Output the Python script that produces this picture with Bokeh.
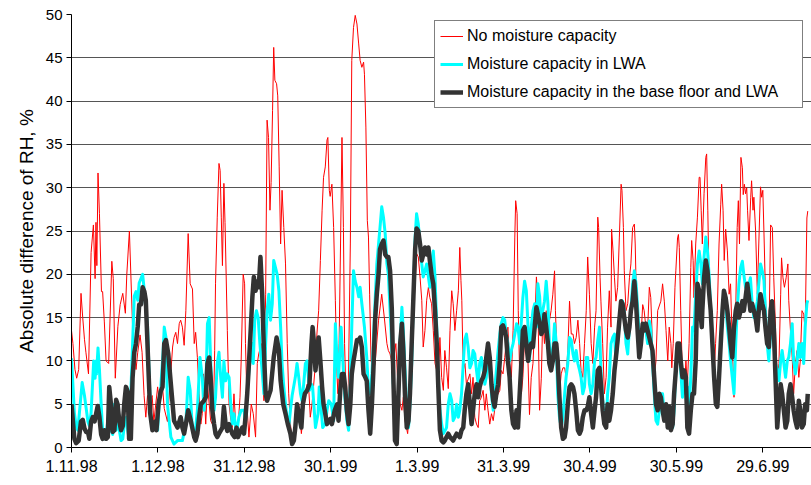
from datetime import date
from bokeh.plotting import figure
from bokeh.models import FixedTicker
from bokeh.embed import file_html
from bokeh.resources import INLINE

# ---------------- data (day offset from 1.11.98, value in %) ----------------
start = date(1998, 11, 1)
tick_labels = ["1.11.98", "1.12.98", "31.12.98", "30.1.99", "1.3.99",
               "31.3.99", "30.4.99", "30.5.99", "29.6.99"]
y_ticks = [0, 5, 10, 15, 20, 25, 30, 35, 40, 45, 50]

red_day = [0, 0.5, 1.2, 1.8, 2.5, 3.3, 3.9, 4.5, 5.0, 5.9, 6.8, 7.6, 8.2, 8.5, 8.8, 9.2, 9.7, 10.4, 10.8, 11.4, 12.0, 12.9, 14.0, 14.5, 15.2, 16.1, 16.9, 17.8, 18.7, 19.2, 20.1, 20.6, 21.2, 21.8, 22.4, 23.0, 23.8, 24.5, 25.2, 25.8, 26.4, 27.0, 28.0, 28.6, 29.9, 30.5, 31.6, 32.2,
           33.3, 35.1, 35.6, 36.2, 36.8, 37.4, 37.9, 38.5, 39.1, 39.7, 40.5, 41.2, 42.0, 42.6, 43.1, 43.7, 44.3, 44.9, 45.4, 45.8, 46.6, 47.2, 48.3, 49.2, 49.7, 50.0, 50.6, 51.2, 51.6, 52.0, 52.4, 52.9, 53.3, 54.1, 54.7, 55.2, 55.8, 56.4, 57.0, 57.8, 58.5, 58.9, 59.6, 60.1, 60.4, 61.0, 61.6, 62.4, 63.1, 63.9, 64.5, 65.0, 65.9, 66.8, 67.4, 67.9, 68.4, 68.9, 69.3, 69.8, 70.2, 70.6, 71.2, 71.6, 72.1, 72.6, 73.1, 73.7, 74.3, 74.9, 75.4, 76.0, 76.6,
           77.7, 78.9, 79.8, 80.6, 81.8, 82.4, 82.9, 83.5, 84.7, 85.2, 85.8, 86.4, 87.0, 87.5, 88.1, 88.7, 89.0, 89.5, 89.8, 90.4, 91.0, 91.6, 92.2, 92.5, 92.9, 93.4, 93.9, 94.4, 94.8, 95.3, 96.0, 96.8, 97.3, 97.9, 98.5, 99.1, 99.7, 100.2, 100.8, 101.4, 101.7, 102.2, 102.7, 103.1, 103.5, 104.0, 104.8, 105.4, 106.6, 107.7, 108.6, 109.5, 110.0, 110.6, 111.2, 112.1, 112.6, 113.3, 114.1, 114.7, 115.2, 115.8, 116.7, 117.5, 118.1, 118.7,
           119.3, 119.8, 120.4, 121.0, 121.6, 122.1, 122.7, 123.3, 123.9, 124.4, 125.0, 125.6, 126.2, 126.8, 127.3, 127.9, 128.5, 129.1, 129.6, 130.2, 130.8, 131.4, 132.0, 132.5, 133.1, 133.7, 134.3, 134.8, 135.2, 135.5, 136.0, 136.6, 137.1, 138.3, 138.9, 139.4, 140.0, 140.6, 141.2, 141.7, 142.3, 142.9, 143.5, 144.0, 144.6, 145.2, 145.8, 146.4, 147.5, 148.7, 149.2, 149.8, 150.4, 150.9, 151.5, 152.1, 152.7, 153.3, 153.9, 154.2, 154.7, 155.1, 155.6, 156.2, 156.7, 157.3, 157.9, 158.5, 159.0, 159.6, 160.2, 160.8, 161.4, 161.9, 162.5, 163.1,
           163.6, 164.2, 164.8, 165.4, 165.9, 166.5, 167.1, 167.7, 168.0, 168.5, 168.8, 169.4, 170.0, 170.6, 171.2, 171.7, 172.3, 172.9, 173.5, 174.1, 174.6, 175.2, 175.8, 176.4, 176.9, 177.5, 178.1, 178.7, 179.2, 179.8, 180.4, 181.0, 181.6, 182.1, 182.7, 183.0, 183.5, 183.8, 184.4, 185.0, 185.6, 186.1, 186.7, 187.3, 187.5, 188.0, 188.5, 189.0, 189.6, 190.2, 190.8, 191.1, 191.6, 191.9, 192.5, 193.1, 193.7, 194.2, 194.8, 195.4, 195.7, 196.2, 196.6, 197.1, 197.7, 198.3, 198.8, 199.4, 200.0, 200.6, 201.1, 201.7, 202.3, 202.9, 203.5, 204.6, 205.2,
           205.8, 206.4, 207.0, 207.5, 208.1, 208.4, 208.9, 209.5, 209.8, 210.4, 210.7, 211.0, 211.5, 212.1, 212.7, 213.3, 213.8, 214.4, 215.0, 215.3, 215.8, 216.1, 216.7, 217.3, 217.9, 218.2, 218.6, 219.0, 219.6, 220.2, 220.5, 220.9, 221.3, 221.9, 222.5, 223.1, 223.6, 224.2, 224.8, 225.4, 225.7, 226.2, 226.6, 227.1, 227.7, 228.3, 228.8, 229.4, 230.0, 230.6, 231.1, 231.5, 231.9, 232.4, 232.9, 233.2, 233.6, 234.0, 234.4, 234.7, 235.2, 235.8, 236.1, 236.6, 236.9, 237.5, 238.1, 238.6, 239.2, 239.6, 240.0, 240.5, 241.0, 241.5, 242.1, 242.7, 243.3, 243.8, 244.4, 245.0, 245.6, 246.2, 246.5, 247.0, 247.5, 248.1, 248.7, 249.0, 249.6, 250.2, 250.7, 251.3, 251.9, 252.5, 253.0, 253.6, 254.2, 254.7, 255.3, 255.6]
red_val = [13.5, 12, 9, 8, 9, 17.8, 15, 12.5, 11, 8.5, 22.5, 25.7, 19.5, 26, 21, 31.7, 27, 18, 18, 14.5, 10, 9.7, 21.5, 19.5, 8, 14, 16.5, 17.8, 15.5, 20, 25, 20, 14, 12, 9, 11, 13, 11, 6, 3.5, 6, 5, 6, 3, 7, 5, 7, 4.5,
           3, 11.6, 12.7, 13.3, 12, 14.3, 14.7, 13.9, 11.8, 15.8, 24.7, 18.9, 18.3, 12, 13.3, 10.4, 6.2, 2.7, 3.9, 8.5, 2.7, 7.3, 3.1, 2.5, 11.2, 18.9, 26.6, 32.8, 32, 26.6, 21, 30.5, 26, 13.5, 5, 3.5, 2.3, 6.2, 2.7, 2.3, 5.8, 10, 20, 18.9, 12, 4.3, 1.2, 5, 3.9, 1.2, 9.7, 10.8, 12, 5.4, 17.7, 37.8, 35.8, 27.4, 30.6, 38.9, 46.2, 42.4, 42, 40.6, 32.4, 23.5, 29.7, 25.4, 21.2, 12, 6.2, 2.7, 0.8,
           3.1, 5, 1.6, 4.3, 7.3, 6.6, 3.5, 5, 9.7, 13.1, 15.8, 21.6, 27.4, 31.2, 32.4, 35.5, 35.8, 29.7, 29, 30.4, 25.4, 17, 8.1, 6.2, 12, 23.5, 35.8, 25.4, 12, 5.8, 4.3, 23.5, 44.7, 48.5, 49.9, 48.9, 46.6, 44.7, 43.9, 44.5, 43.1, 37, 26.2, 24.3, 17.7, 10, 8.9, 9.7, 14.7, 17.7, 15, 12, 11.2, 10.8, 9.7, 10.8, 12, 7.3, 5, 4.3, 5.8, 3.1, 1.6, 5, 10, 15.8,
           19, 22.4, 22, 19.7, 17, 11.6, 13.5, 17, 18.5, 17.3, 16.6, 13.5, 9.7, 8.9, 6.8, 12.7, 8.1, 6.6, 11.2, 9.2, 6.8, 13.5, 18.1, 16.6, 13.5, 15.8, 18.1, 23.1, 19.3, 17, 8.9, 9.7, 7.3, 8.5, 6.2, 8.1, 3.5, 2.7, 2.3, 5.4, 5.8, 6.6, 4.3, 6.2, 4.3, 2.7, 3.9, 3.1, 5.8, 6.6, 8.9, 8.5, 10.4, 12, 13.9, 9.7, 8.1, 13.5, 24.3, 28.5, 27, 15.8, 8.1, 6.2, 8.1, 12.7, 13.9, 9.7, 3.8, 8.1, 9.7, 13.9, 19.7, 17, 4.3, 8,
           15, 12, 15.8, 14.7, 14.6, 15.8, 17.7, 20.4, 15.8, 11.2, 7, 6.2, 8.5, 9.2, 9.2, 8.1, 11.2, 16.9, 13.1, 13.1, 12, 12.7, 14.7, 12, 8.9, 8.1, 12, 15.8, 22, 17.7, 12, 9.7, 13.9, 15.8, 26.6, 25.4, 19.6, 16.9, 12, 6.2, 8.1, 13.9, 18.1, 13.9, 25.2, 22.7, 19.6, 16.9, 18.5, 24.3, 30.4, 29.7, 25.4, 20.4, 15.8, 16.6, 19.6, 21.2, 25.4, 25.8, 23.5, 15.8, 13.9, 12, 12.7, 16.5, 15.8, 13.9, 13.5, 18.5, 17.3, 12, 8.1, 10, 15.8, 16.9, 18.9,
           16.9, 13.5, 10, 13.9, 12, 9.2, 12, 18.5, 20.4, 24.2, 24.6, 23.1, 15.8, 8.1, 6.6, 10, 7.3, 12, 20.8, 23.9, 21.6, 17.3, 23.5, 26.6, 31.2, 31.2, 27.4, 23.5, 29.3, 33.5, 33.9, 27.4, 19.6, 15.8, 12, 8.5, 12, 15.8, 23.5, 28.1, 30.4, 27.4, 21.6, 25.2, 22.7, 17.7, 18.9, 12, 5.8, 15.8, 25.4, 28.5, 23.5, 33.5, 32.3, 29.2, 30.4, 29.3, 30, 27.4, 23.9, 28.9, 30.8, 27.4, 28.9, 25, 17.7, 23.5, 30.1, 28.9, 29.7, 23.5, 16.6, 13.9, 12, 25.7, 25.4, 19.6, 13.9, 8.1, 9.7, 17.7, 21.9, 19.6, 18.5, 19.6, 21.2, 17, 13.5, 10.4, 6.2, 9.7, 11.2, 8.1, 10, 15.8, 15.4, 13.5, 26.5, 27.3]

cyan_day = [0, 1.0, 1.6, 2.2, 3.7, 4.5, 5.1, 5.7, 6.2, 6.8, 7.4, 7.7, 8.2, 8.5, 8.7, 9.2, 9.7, 10.3, 10.8, 11.4, 12.0, 12.6, 13.1, 13.7, 14.3, 14.9, 15.5, 16.0, 16.6, 17.2, 17.8, 18.3, 19.1, 19.5, 20.0, 21.0, 21.8, 22.4, 23.0, 23.5, 24.7, 25.3, 25.8, 26.4, 27.0, 27.6, 28.2, 29.3, 29.9, 30.4, 31.0, 31.8,
            32.2, 32.8, 33.3, 34.5, 35.6, 36.8, 38.5, 39.7, 40.5, 41.2, 42.0, 42.8, 43.7, 44.6, 45.4, 46.0, 46.6, 47.2, 47.8, 48.3, 48.9, 49.5, 50.0, 50.6, 51.2, 51.8, 52.4, 52.9, 53.5, 54.1, 54.7, 55.2, 55.8, 56.4, 57.0, 57.6, 58.1, 58.9, 59.9, 60.4, 61.0, 61.6, 62.2, 62.7, 63.1, 63.6, 64.2, 64.8, 65.4, 65.9, 66.8, 67.4, 67.9, 68.5, 69.1, 69.7, 70.2, 70.8, 71.4, 72.0, 72.6, 73.1, 73.7, 74.3, 74.9, 75.4, 76.0, 76.6,
            77.7, 78.3, 78.9, 79.5, 80.0, 80.6, 81.2, 81.8, 82.6, 83.3, 83.7, 84.7, 85.6, 86.0, 86.7, 87.2, 88.1, 88.7, 89.3, 90.2, 91.0, 91.6, 92.2, 92.7, 93.6, 94.2, 94.8, 95.6, 96.2, 96.8, 97.3, 97.9, 98.5, 99.1, 99.7, 100.2, 100.8, 101.7, 102.5, 103.1, 103.7, 104.3, 104.8, 105.4, 106.0, 106.6, 107.1, 107.7, 108.3, 108.9, 109.5, 110.0, 110.6, 111.2, 111.8, 112.3, 112.9, 113.5, 114.1, 114.7, 115.2, 115.8, 116.4, 117.0, 117.5, 118.1, 118.7, 119.3, 119.8,
            120.4, 121.0, 121.6, 122.1, 122.7, 123.3, 123.9, 124.4, 125.0, 125.6, 126.2, 126.8, 127.3, 127.9, 128.5, 129.1, 129.6, 130.2, 130.8, 131.4, 132.0, 132.5, 133.1, 133.7, 134.3, 134.8, 135.4, 136.0, 136.5, 137.1, 137.7, 138.3, 138.9, 139.4, 140.0, 140.6, 141.2, 141.7, 142.3, 142.9, 143.5, 144.0, 144.6, 145.2, 145.8, 146.4, 146.9, 147.5, 148.1, 148.7, 149.2, 149.8, 150.4, 150.9, 151.5, 152.1, 152.7, 153.3, 153.9, 154.5, 155.0, 155.6, 156.2, 156.7, 157.3, 157.9, 158.5, 159.0, 159.6, 160.2, 160.8, 161.4, 161.9, 162.5, 163.1,
            163.6, 164.2, 164.8, 165.4, 165.9, 166.5, 167.1, 167.7, 168.3, 168.8, 169.4, 170.0, 170.6, 171.2, 171.7, 172.3, 172.9, 173.5, 174.1, 174.6, 175.2, 175.8, 176.4, 176.9, 177.5, 178.1, 178.7, 179.2, 179.8, 180.4, 181.0, 181.6, 182.1, 182.7, 183.3, 183.8, 184.4, 185.0, 185.6, 186.1, 186.7, 187.3, 187.9, 188.5, 189.0, 189.6, 190.2, 190.8, 191.3, 191.9, 192.5, 193.1, 193.7, 194.2, 194.8, 195.4, 196.0, 196.6, 197.1, 197.7, 198.3, 198.8, 199.4, 200.0, 200.6, 201.1, 201.7, 202.3, 202.9, 203.5, 204.1, 204.6, 205.2,
            205.8, 206.4, 207.0, 207.5, 208.1, 208.7, 209.2, 209.8, 210.4, 211.0, 211.5, 212.1, 212.7, 213.3, 213.8, 214.4, 215.0, 215.6, 216.1, 216.7, 217.3, 217.9, 218.5, 219.0, 219.6, 220.2, 220.8, 221.4, 221.9, 222.5, 223.1, 223.7, 224.2, 224.8, 225.4, 226.0, 226.5, 227.1, 227.7, 228.3, 228.8, 229.4, 230.0, 230.6, 231.1, 231.7, 232.3, 232.9, 233.4, 234.0, 234.6, 235.2, 235.7, 236.3, 236.9, 237.5, 238.1, 238.6, 239.2, 239.8, 240.4, 240.9, 241.5, 242.1, 242.7, 243.2, 243.8, 244.4, 245.0, 245.6, 246.2, 246.7, 247.3, 247.9, 248.5, 249.0, 249.6, 250.2, 250.7, 251.3, 251.9, 252.5, 253.0, 253.6, 254.2, 254.7, 255.3, 255.6]
cyan_val = [10.3, 4, 2.5, 2, 7.5, 6, 4.5, 3, 2.5, 4, 8, 10, 8, 10, 8.5, 11.5, 9, 5, 2, 1, 1.5, 3, 4.5, 2, 1.5, 5, 2, 4, 2, 0.8, 1, 2.5, 3.5, 2, 1, 10, 17.5, 18, 17, 19, 20, 18, 16, 14, 8, 3, 2.5, 3, 2, 5, 7, 11,
            13.9, 12.7, 5, 1.2, 0.4, 0.8, 0.8, 2.7, 8.1, 6.6, 1.9, 1.2, 4.3, 10.4, 8.1, 4.3, 6.2, 14.3, 15, 10, 5.4, 4.3, 5.8, 9.7, 11, 8.1, 5.8, 10, 7.7, 8.5, 8.1, 5.4, 2.7, 3.9, 2.3, 2.3, 3.5, 4.3, 4.3, 2.7, 6.2, 8.9, 10.4, 12, 9.7, 14.7, 15.8, 15, 12, 10, 6.2, 12, 15.8, 17.7, 14.7, 16.6, 21.6, 20.8, 20, 18.1, 13.9, 9.7, 7, 5, 3.1, 2.3, 4.3, 6,
            8.1, 9.7, 8.1, 6.2, 5.4, 7.3, 9.7, 10, 6.6, 7.3, 7, 2.3, 3.9, 7, 4.3, 2.3, 2.7, 4.3, 5.4, 5, 3.1, 14.3, 10, 8.1, 13.9, 10, 6.2, 3.1, 2, 8.1, 13.9, 20.4, 19.2, 18.5, 17.4, 18.5, 16.6, 13.9, 10.4, 6.6, 6.2, 8.5, 12, 16.9, 21.2, 23.5, 25.4, 27.8, 26.6, 24.7, 21.2, 20, 15.8, 11.6, 6.6, 3.1, 2.3, 5.4, 12.4, 16.2, 13.5, 8.9, 4.3, 2.3, 5, 9.7, 17.7, 24.3, 27,
            25.8, 23.5, 21.2, 19.7, 20.4, 21.2, 19.7, 18.5, 21.2, 22.7, 19.7, 13.9, 8.1, 4.3, 2.7, 1.6, 1.9, 2.3, 5, 6.2, 5.4, 3.1, 3.5, 5, 3.5, 4.3, 6.2, 9.7, 12.4, 13.1, 11.6, 9.2, 9.7, 11.2, 10.8, 8.9, 7.3, 9.7, 10.4, 8.9, 7.3, 8.1, 10.4, 9.2, 6.2, 4.3, 6.6, 8.9, 11.2, 13.1, 14.3, 15, 14.7, 13.1, 12, 10, 11.2, 12, 13.1, 14.3, 13.9, 12, 14.7, 17.3, 19.2, 18.1, 13.9, 10, 13.9, 15.8, 16.6, 13.9, 18.9, 17.5, 13.9,
            15.8, 16.9, 19.2, 16.6, 12, 9.7, 11.2, 14.3, 12, 6.2, 3.5, 2.3, 3.5, 6.2, 8.1, 9.7, 12.7, 12.4, 10.8, 10, 11.2, 9.7, 8.9, 8.1, 6.2, 7, 10.4, 10.4, 7.3, 6.2, 7.3, 10, 10.4, 12.4, 13.9, 8.9, 5.4, 3.1, 2.7, 6.2, 8.1, 12, 12.7, 13.1, 10, 12, 14.6, 16.5, 16.9, 15.8, 12, 10.8, 13.9, 15.8, 18.9, 20.4, 18.9, 15.8, 12.7, 12, 13.9, 14.3, 13.5, 12, 14.6, 13.5, 10, 6.2, 3.1, 2.7, 4.3, 6.2, 6.2,
            3.5, 4.5, 3.1, 4.3, 4.3, 2.3, 4.3, 8.9, 12, 11.2, 8.9, 5.8, 8.1, 6.2, 7, 4.7, 8.1, 13.9, 13.5, 17.7, 21.2, 22.7, 21.2, 18.9, 22, 24.3, 22.7, 19.6, 15.8, 12, 8.1, 5, 5, 8.1, 12, 15.8, 16.9, 16.6, 13.9, 12, 10, 8.1, 6.2, 12, 15.8, 18.9, 20.8, 21.5, 20, 18.5, 18.1, 18.9, 19.6, 16.6, 15, 15.8, 16.9, 18.9, 21.2, 20.4, 19.3, 15.8, 12, 10, 13.5, 13.9, 12, 9.7, 8.9, 7.7, 10, 11.2, 9.7, 8.1, 10, 10.4, 12, 14.3, 10, 8.5, 10, 12, 10.4, 12, 9.7, 13.9, 16.6, 17]

black_day = [0, 1.0, 1.6, 2.5, 3.3, 3.9, 4.5, 5.1, 5.7, 6.2, 6.8, 7.4, 8.0, 9.1, 9.7, 10.3, 10.8, 11.4, 12.0, 12.6, 13.1, 13.7, 14.3, 14.9, 15.5, 16.0, 16.6, 17.2, 17.8, 18.3, 18.9, 19.5, 20.0, 20.6, 21.2, 21.8, 22.4, 23.0, 23.5, 24.1, 24.7, 25.3, 25.8, 26.6, 27.3, 28.1, 29.1, 29.5, 30.2, 31.0, 31.6,
             32.2, 32.8, 33.6, 34.5, 35.6, 36.8, 37.9, 38.5, 39.1, 39.7, 40.5, 41.4, 42.6, 43.1, 43.7, 44.3, 44.9, 46.0, 46.6, 47.2, 47.8, 48.3, 48.9, 49.5, 50.0, 50.6, 51.2, 52.4, 52.9, 53.5, 54.1, 54.7, 55.8, 56.6, 57.3, 57.8, 58.7, 59.3, 59.9, 60.4, 61.0, 61.6, 62.2, 62.8, 63.3, 63.9, 64.5, 65.0, 65.6, 66.2, 66.8, 67.4, 67.9, 69.1, 70.2, 71.2, 72.0, 72.6, 73.5, 74.3, 75.1, 76.0, 76.6,
             77.2, 77.7, 78.3, 79.1, 79.8, 80.3, 81.0, 81.8, 82.6, 83.3, 83.7, 84.2, 84.7, 85.2, 85.8, 86.4, 87.0, 87.5, 88.1, 88.7, 89.3, 89.9, 90.4, 91.4, 92.2, 92.7, 93.3, 93.9, 94.5, 95.0, 95.6, 96.2, 96.8, 97.3, 97.9, 98.5, 99.1, 99.7, 100.2, 100.8, 101.4, 102.0, 102.5, 103.1, 103.7, 104.3, 104.8, 105.4, 106.0, 106.6, 107.1, 107.7, 108.3, 108.9, 109.5, 110.0, 110.6, 111.2, 111.8, 112.3, 112.9, 113.5, 114.1, 114.7, 115.2, 115.8, 116.4, 117.0, 117.5, 118.1, 118.7, 119.3, 119.8,
             120.4, 121.0, 121.6, 122.1, 122.7, 123.3, 123.9, 124.4, 125.0, 125.6, 126.2, 126.8, 127.3, 127.9, 128.5, 129.1, 129.6, 130.2, 130.8, 131.4, 132.0, 132.5, 133.1, 133.7, 134.8, 135.4, 136.0, 136.5, 137.1, 137.7, 138.3, 138.9, 139.4, 140.0, 140.6, 141.2, 141.7, 142.3, 142.9, 143.5, 144.0, 144.6, 145.2, 145.8, 146.4, 146.9, 147.5, 148.1, 148.7, 149.2, 149.8, 150.4, 150.9, 151.5, 152.1, 152.7, 153.3, 153.9, 154.5, 155.0, 155.6, 156.2, 156.7, 157.3, 157.9, 158.5, 159.0, 159.6, 160.2, 160.8, 161.4, 161.9, 162.5, 163.1, 163.7,
             164.2, 164.8, 165.4, 165.9, 166.5, 167.1, 167.7, 168.3, 168.8, 169.4, 170.0, 170.6, 171.2, 171.7, 172.3, 172.9, 173.5, 174.1, 174.6, 175.2, 175.8, 176.4, 176.9, 177.5, 178.1, 178.7, 179.2, 179.8, 180.4, 181.0, 181.6, 182.1, 182.7, 183.3, 183.8, 184.4, 185.0, 185.6, 186.1, 186.7, 187.3, 187.9, 188.5, 189.0, 189.6, 190.2, 190.8, 191.3, 191.9, 192.5, 193.1, 193.7, 194.2, 194.8, 195.4, 196.0, 196.6, 197.1, 197.7, 198.3, 198.8, 199.4, 200.0, 200.6, 201.1, 201.7, 202.3, 202.9, 203.5, 204.1, 204.6, 205.2, 205.8, 206.4, 207.0,
             207.5, 208.1, 208.7, 209.2, 209.8, 210.4, 211.0, 211.5, 212.1, 212.7, 213.3, 213.8, 214.4, 215.0, 215.6, 216.1, 216.7, 217.3, 217.9, 218.5, 218.8, 219.0, 219.6, 220.2, 220.8, 221.4, 221.9, 222.5, 223.1, 223.7, 224.2, 224.8, 225.4, 226.0, 226.5, 227.1, 227.7, 228.3, 228.8, 229.4, 230.0, 230.6, 231.1, 231.7, 232.3, 232.9, 233.4, 234.0, 234.6, 235.2, 235.7, 236.3, 236.9, 237.5, 238.1, 238.6, 239.2, 239.8, 240.4, 240.9, 241.5, 242.1, 242.7, 243.2, 243.8, 244.4, 245.0, 245.6, 246.2, 246.7, 247.3, 247.9, 248.5, 249.0, 249.6, 250.2, 250.7, 251.3, 251.9, 252.5, 253.0, 253.6, 254.2, 254.7, 255.3, 255.6]
black_val = [5, 1, 0.5, 0.8, 3, 3.2, 2.2, 1.8, 1.8, 1, 3, 3.5, 3, 4.8, 3.5, 1.5, 1, 2, 1, 1.2, 7, 5, 1.8, 2, 5.5, 5, 3, 2, 2.5, 5, 7, 6.5, 1, 1, 8, 11, 12, 14, 16.5, 16.5, 18.5, 18, 17, 10, 4, 2, 3, 2, 5, 6.5, 7,
             12, 12.4, 10.8, 7.3, 3.1, 2.3, 3.5, 2.3, 1.6, 2.7, 4.3, 3.1, 1.2, 0.8, 1.6, 3.5, 5, 5.4, 5.8, 9.7, 10.4, 8.1, 4.3, 2.7, 1.6, 1.2, 1.6, 2.3, 4.7, 2.7, 1.9, 2.7, 1.6, 1.2, 2.3, 1.2, 1.9, 2.3, 1.6, 3.5, 6.2, 9.7, 13.5, 17.4, 19.7, 18.1, 19.2, 18.5, 22, 17.7, 11.2, 6.2, 5.4, 6.6, 10.4, 12.7, 11.2, 7.7, 5, 3.9, 2.7, 1.6, 0.4,
             0.8, 2.3, 5, 3.5, 2.3, 5, 6.2, 6.6, 7.3, 12, 13.9, 12, 8.9, 10.8, 12.7, 10, 7, 5, 3.9, 2.7, 3.1, 3.3, 2.7, 4.3, 5, 3.1, 6.6, 8.5, 8.5, 7, 4.3, 2.7, 5, 8.5, 10, 11.2, 12.4, 12.4, 12.7, 11.6, 8.5, 8.1, 7.7, 4.3, 1.6, 5, 8.9, 14.7, 17.7, 20, 22.9, 23.5, 23.9, 22.3, 22, 22, 20.4, 16, 7.3, 0.8, 0.4, 6.2, 12, 14.3, 11.2, 5.8, 2.3, 3.1, 6.2, 12, 17.4, 22.9, 25.3,
             25, 23.5, 21.6, 22.3, 23.1, 22.3, 23.1, 21.6, 20, 18.9, 15.8, 12, 7.3, 2, 0.8, 0.6, 0.8, 1.2, 1.6, 1.2, 1, 0.8, 1.2, 1.6, 1.2, 2, 2.3, 4.3, 6.2, 7.3, 5, 2.7, 4.3, 6.2, 7.3, 5.8, 7, 7.7, 8.1, 8.9, 10.4, 12, 10.4, 7.3, 5.4, 4.7, 6.2, 7.3, 10, 13.9, 14.1, 13.5, 12.7, 10, 8.1, 4.3, 2.7, 2.3, 4.3, 2.3, 6.2, 10, 13.5, 13.9, 12, 10, 11.2, 12, 11.6, 13.9, 16.2, 15.4, 14.3, 13.1, 13.5,
             15.4, 13.9, 12, 9.7, 8.9, 10, 12, 12, 10, 5.8, 2.3, 1, 1.2, 2.3, 5, 7, 7.3, 7, 6.2, 4.3, 2, 1.6, 2, 3.5, 4.3, 4.3, 4.7, 5.8, 3.9, 2.3, 4.3, 5.8, 8.9, 9.2, 7.3, 4.3, 2.7, 2.3, 5, 3.1, 4.3, 6.2, 8.9, 10.4, 12.4, 14.7, 16.9, 16.6, 15, 13.5, 12.7, 13.9, 15.8, 16.9, 19.2, 16.6, 13.1, 10.4, 12, 14.3, 13.5, 14.3, 13.5, 12.7, 12, 11.2, 8.1, 5, 4.3, 6.2, 5.8, 4.3, 3.1, 5, 2.3,
             4.7, 2, 2.7, 6.2, 8.9, 12, 12, 10, 8.1, 8.9, 8.1, 2.3, 1.6, 4.3, 6.2, 6.2, 10, 18.9, 18.1, 15, 13.9, 15.8, 19.6, 21.6, 20.4, 17.7, 15.8, 12, 8.1, 5, 4.7, 8.1, 12, 15.8, 18.1, 17.3, 15.8, 13.9, 12, 10.4, 13.9, 15.8, 16.6, 15, 15.8, 16.9, 15.8, 17.3, 18.9, 17.3, 15.8, 16.6, 15.8, 15, 13.5, 15.8, 17.7, 16.6, 15.8, 13.9, 12, 11.6, 15.8, 16.9, 13.9, 8.1, 2.3, 5, 7.3, 6.2, 4.3, 2.3, 3.1, 6.2, 7.3, 5.8, 4.3, 3.1, 2.3, 5.4, 4.3, 2.3, 2.7, 5, 4.3, 6.2]

series_names = ["No moisture capacity", "Moisture capacity in LWA",
                "Moisture capacity in the base floor and LWA"]


def parse_label(s):
    d, m, y = (int(t) for t in s.split("."))
    return date(1900 + y if y > 50 else 2000 + y, m, d)


tick_days = [(parse_label(s) - start).days for s in tick_labels]

FONT = "Liberation Sans"

p = figure(frame_width=740, frame_height=433, x_range=(0, 256.9), y_range=(0, 50),
           output_backend="svg", toolbar_location=None,
           min_border_left=71, min_border_top=14, min_border_right=0, min_border_bottom=38,
           background_fill_color="white", border_fill_color="white")
p.outline_line_color = None

p.line(red_day, red_val, line_color="#ff0000", line_width=1, legend_label=series_names[0])
p.line(cyan_day, cyan_val, line_color="#00ffff", line_width=3, line_join="round",
       legend_label=series_names[1])
p.line(black_day, black_val, line_color="#333333", line_width=4.5, line_join="round",
       legend_label=series_names[2])

# axes
p.xaxis.ticker = FixedTicker(ticks=tick_days)
p.xaxis.major_label_overrides = {d: s for d, s in zip(tick_days, tick_labels)}
p.yaxis.ticker = FixedTicker(ticks=y_ticks)
for ax in (p.xaxis[0], p.yaxis[0]):
    ax.axis_line_color = "black"
    ax.major_tick_line_color = "black"
    ax.major_tick_in = 0
    ax.major_tick_out = 5
    ax.minor_tick_line_color = None
    ax.major_label_text_font = FONT
    ax.major_label_text_color = "black"
p.xaxis.major_label_text_font_size = "16px"
p.xaxis.major_label_standoff = 7
p.yaxis.major_label_text_font_size = "15px"
p.yaxis.major_label_standoff = 4
p.yaxis.axis_label = "Absolute difference of RH, %"
p.yaxis.axis_label_text_font = FONT
p.yaxis.axis_label_text_font_size = "19px"
p.yaxis.axis_label_text_font_style = "normal"
p.yaxis.axis_label_text_color = "black"
p.yaxis.axis_label_standoff = 6

p.xgrid.visible = False
p.ygrid.grid_line_color = "#555555"
p.ygrid.grid_line_width = 1

# legend
lg = p.legend[0]
lg.location = (363, 339)
lg.label_text_font = FONT
lg.label_text_font_size = "16px"
lg.label_text_color = "black"
lg.glyph_width = 23
lg.glyph_height = 20
lg.label_height = 20
lg.label_width = 330
lg.label_standoff = 4
lg.padding = 5
lg.spacing = 8
lg.margin = 0
lg.border_line_color = "black"
lg.border_line_width = 1
lg.background_fill_color = "white"
lg.background_fill_alpha = 1

open("out.html", "w").write(file_html(p, INLINE))
